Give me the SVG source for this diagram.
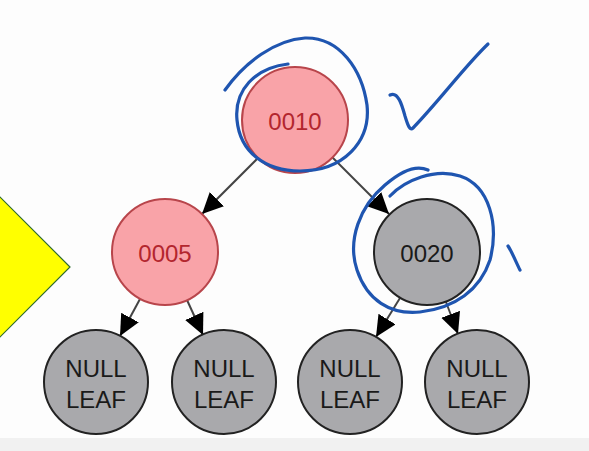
<svg xmlns="http://www.w3.org/2000/svg" width="589" height="451" viewBox="0 0 589 451">
<style>
.red circle{fill:#f9a3a8;stroke:#b8454b;stroke-width:2}
.red text{fill:#b3262e}
.blk circle{fill:#a9a9ac;stroke:#222;stroke-width:2}
.blk text{fill:#1a1a1a}
text{font-family:"Liberation Sans",Arial,sans-serif;font-size:24px;text-anchor:middle}
.edge{stroke:#444;stroke-width:2;fill:none;marker-end:url(#ah)}
.ink{fill:none;stroke:#1f55b0;stroke-width:3.2;stroke-linecap:round;stroke-linejoin:round}
</style>
<defs>
<marker id="ah" markerUnits="userSpaceOnUse" markerWidth="22" markerHeight="22" refX="21" refY="10" orient="auto">
<path d="M0,0 L21,10 L0,20 z" fill="#000"/>
</marker>
</defs>
<rect width="589" height="451" fill="#fdfdfd"/>
<rect y="438" width="589" height="13" fill="#f1f1f1"/>
<polygon points="-70,267 0,197 70,267 0,337" fill="#ffff00" stroke="#2f6b2f" stroke-width="1.2"/>
<g id="connectors">
<line class="edge" x1="258" y1="158" x2="202" y2="214"/>
<line class="edge" x1="332" y1="157" x2="389" y2="214"/>
<line class="edge" x1="140" y1="299" x2="120" y2="336"/>
<line class="edge" x1="187" y1="300" x2="203" y2="335"/>
<line class="edge" x1="400" y1="298" x2="376" y2="337"/>
<line class="edge" x1="446" y1="302" x2="458" y2="334"/>
</g>
<g id="n0010" class="red"><circle cx="295" cy="120" r="53"/><text x="295" y="130">0010</text></g>
<g id="n0005" class="red"><circle cx="165" cy="252" r="53"/><text x="165" y="262">0005</text></g>
<g id="n0020" class="blk"><circle cx="427" cy="252" r="53"/><text x="427" y="262">0020</text></g>
<g id="leaf1" class="blk"><circle cx="96" cy="382" r="52"/><text x="96" y="377">NULL</text><text x="96" y="408">LEAF</text></g>
<g id="leaf2" class="blk"><circle cx="224" cy="382" r="52"/><text x="224" y="377">NULL</text><text x="224" y="408">LEAF</text></g>
<g id="leaf3" class="blk"><circle cx="350" cy="382" r="52"/><text x="350" y="377">NULL</text><text x="350" y="408">LEAF</text></g>
<g id="leaf4" class="blk"><circle cx="477" cy="382" r="52"/><text x="477" y="377">NULL</text><text x="477" y="408">LEAF</text></g>
<g id="annotations">
<path class="ink" d="M225,90 C245,62 275,40 305,38 C340,37 362,70 367,105 C371,142 343,171 300,171 C265,171 240,152 237,120 C234,90 255,68 288,64"/>
<path class="ink" d="M390,95 C398,91 402,105 405,116 C408,126 410,131 413,128 C440,100 465,66 488,44"/>
<path class="ink" d="M428,170 C415,164 400,172 385,185 C360,206 347,240 357,270 C367,300 390,315 420,312 C455,308 480,290 490,260 C499,225 490,186 460,176 C435,168 405,180 390,196"/>
<path class="ink" d="M508,246 C512,252 516,262 520,270"/>
</g>
</svg>
